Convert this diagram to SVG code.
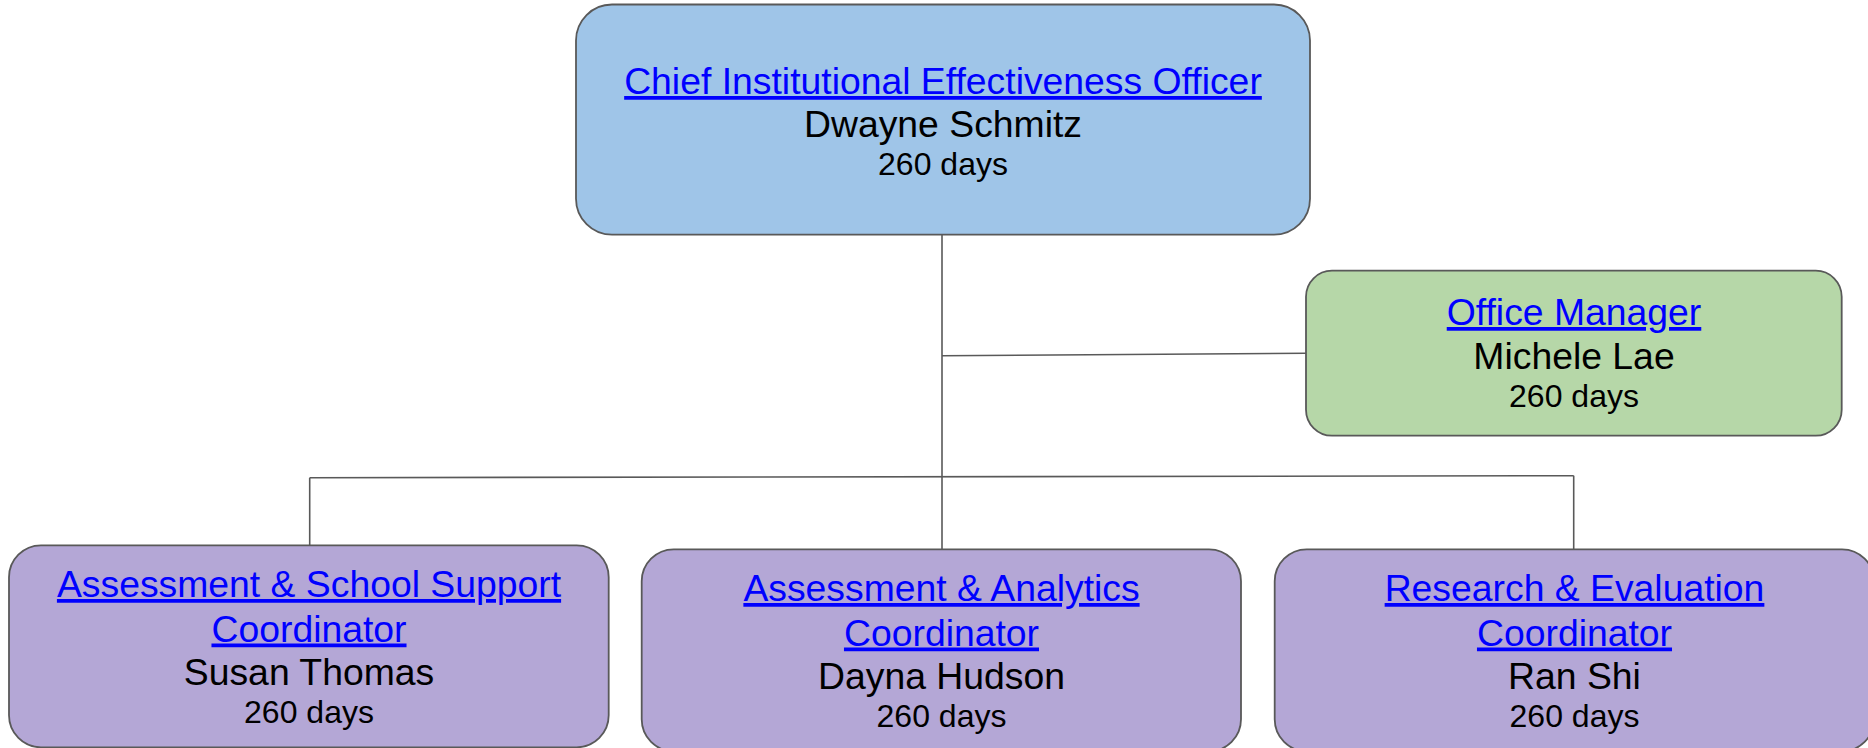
<svg xmlns="http://www.w3.org/2000/svg" width="1868" height="748" viewBox="0 0 1868 748">
  <style>
    .box { stroke: #595959; stroke-width: 1.8; }
    .blue { fill: #9fc5e8; }
    .green { fill: #b6d7a8; }
    .purple { fill: #b4a7d6; }
    .conn { stroke: #595959; stroke-width: 1.6; fill: none; }
    text { font-family: "Liberation Sans", Arial, sans-serif; text-anchor: middle; }
    .link { fill: #0000ff; font-size: 37.33px; text-decoration: underline; }
    .name { fill: #000000; font-size: 37.33px; }
    .days { fill: #000000; font-size: 32px; }
  </style>
  <rect width="1868" height="748" fill="#ffffff"/>
  <g id="connectors">
    <line class="conn" x1="942" y1="234.7" x2="942" y2="549.3"/>
    <line class="conn" x1="942" y1="355.7" x2="1306" y2="353.3"/>
    <line class="conn" x1="309.7" y1="477.7" x2="1573.7" y2="475.7"/>
    <line class="conn" x1="309.7" y1="477.7" x2="309.7" y2="545.3"/>
    <line class="conn" x1="1573.7" y1="475.7" x2="1573.7" y2="549.3"/>
  </g>
  <g id="node-chief">
    <rect class="box blue" x="576" y="4.5" width="734" height="230.2" rx="36" ry="36"/>
    <text class="link" x="943" y="94">Chief Institutional Effectiveness Officer</text>
    <text class="name" x="943" y="137">Dwayne Schmitz</text>
    <text class="days" x="943" y="175">260 days</text>
  </g>
  <g id="node-office">
    <rect class="box green" x="1306" y="270.7" width="535.7" height="165" rx="26" ry="26"/>
    <text class="link" x="1574" y="325">Office Manager</text>
    <text class="name" x="1574" y="369">Michele Lae</text>
    <text class="days" x="1574" y="407">260 days</text>
  </g>
  <g id="node-assessment-school">
    <rect class="box purple" x="9" y="545.3" width="599.7" height="202" rx="32" ry="32"/>
    <text class="link" x="309" y="597">Assessment &amp; School Support</text>
    <text class="link" x="309" y="641.5">Coordinator</text>
    <text class="name" x="309" y="684.5">Susan Thomas</text>
    <text class="days" x="309" y="722.5">260 days</text>
  </g>
  <g id="node-assessment-analytics">
    <rect class="box purple" x="641.7" y="549.3" width="599.3" height="202" rx="32" ry="32"/>
    <text class="link" x="941.5" y="601">Assessment &amp; Analytics</text>
    <text class="link" x="941.5" y="645.5">Coordinator</text>
    <text class="name" x="941.5" y="688.5">Dayna Hudson</text>
    <text class="days" x="941.5" y="726.5">260 days</text>
  </g>
  <g id="node-research">
    <rect class="box purple" x="1274.7" y="549.3" width="599.3" height="202" rx="32" ry="32"/>
    <text class="link" x="1574.5" y="601">Research &amp; Evaluation</text>
    <text class="link" x="1574.5" y="645.5">Coordinator</text>
    <text class="name" x="1574.5" y="688.5">Ran Shi</text>
    <text class="days" x="1574.5" y="726.5">260 days</text>
  </g>
</svg>
